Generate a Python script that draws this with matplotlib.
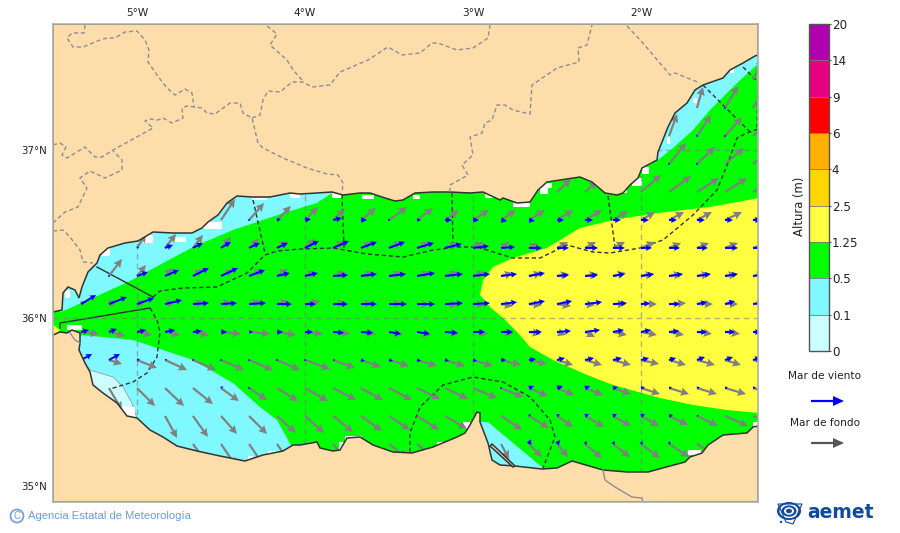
import numpy as np
import matplotlib
matplotlib.use("Agg")
import matplotlib.pyplot as plt
from matplotlib.patches import Polygon, Rectangle, Ellipse, Circle, FancyArrow
from matplotlib.colors import ListedColormap, BoundaryNorm
from matplotlib.colorbar import ColorbarBase

n = np.nan

# ---- map frame -----------------------------------------------------------
lon_ticks = [-5, -4, -3, -2]
lat_ticks = [35, 36, 37]
lon_labels = ["5°W", "4°W", "3°W", "2°W"]
lat_labels = ["35°N", "36°N", "37°N"]

# ---- colour scale --------------------------------------------------------
level_labels = ["0", "0.1", "0.5", "1.25", "2.5", "4", "6", "9", "14", "20"]
level_colors = ["#CCFFFF", "#80F8FF", "#00FF00", "#FFFF40", "#FFD700",
                "#FFB000", "#FF0000", "#E8007F", "#B000B0"]

# ---- digitised map outlines (x, y on the map sheet) --
coast_n = [(53,312),(62,310),(63,293),(68,287),(75,290),(79,298),(82,287),(88,272),(97,263),(100,255),
           (108,248),(125,243),(138,241),(153,232),(173,233),(192,233),(202,228),(208,222),(218,215),
           (227,203),(237,196),(252,197),(270,197),(290,193),(300,194),(317,193),(332,192),(343,195),
           (360,193),(370,193),(385,198),(395,201),(403,200),(415,193),(433,192),(450,192),(470,193),
           (483,192),(500,200),(503,198),(517,203),(530,202),(538,190),(547,182),(560,180),(580,177),
           (592,182),(605,193),(617,195),(623,193),(630,185),(638,178),(642,168),(657,160),(658,152),
           (668,127),(675,113),(687,103),(695,90),(703,85),(723,78),(730,70),(743,63),(755,56),(758,55),
           (758,24),(53,24)]
coast_s = [(53,335),(60,332),(67,333),(72,330),(80,333),(80,343),(79,350),(85,363),(90,372),(93,385),
           (103,393),(117,403),(127,416),(137,418),(150,430),(163,437),(177,446),(197,451),(220,456),
           (245,461),(263,455),(283,451),(293,445),(300,445),(317,442),(320,448),(333,451),(340,450),
           (347,438),(360,437),(373,445),(393,452),(412,453),(433,447),(457,437),(465,433),(470,425),
           (477,412),(480,413),(480,422),(488,443),(492,460),(500,465),(515,466),(542,469),(557,468),
           (572,461),(603,470),(627,472),(648,472),(670,466),(685,462),(690,457),(702,453),(708,445),
           (723,435),(747,433),(753,427),(758,426),(758,502),(53,502)]
spit = [(492,444),(515,466),(513,467),(490,446)]

cyan_nw = [(68,309),(128,282),(193,247),(233,230),(287,212),(317,203),(332,193),(332,180),(60,180),(60,312)]
cyan_sw = [(82,335),(133,340),(193,360),(233,383),(260,407),(277,420),(292,447),(292,470),(80,470),(75,340)]
pale_sw = [(82,360),(90,370),(113,377),(123,387),(132,403),(137,418),(100,430),(80,380)]
cyan_ne = [(658,160),(673,148),(693,130),(710,110),(737,83),(759,63),(759,40),(640,40),(640,170)]
cyan_bay = [(488,422),(513,443),(543,468),(543,472),(480,472),(480,422)]
yellow_e = [(759,198),(710,207),(657,213),(613,220),(580,228),(560,240),(547,248),(513,258),(493,267),
            (483,280),(480,295),(490,307),(503,318),(517,332),(530,347),(553,360),(587,375),(613,385),
            (660,398),(693,405),(727,410),(759,413)]
yellow_w = [(53,325),(60,330),(55,335),(53,335)]

white_x = [102,65,143,173,203,290,122,248,268,67,332,362,413,485,513,540,540,339,345,437,463,632,642,623,667,730,693,688,710,753,252]
white_y = [248,290,235,237,222,193,407,456,451,325,193,195,195,193,203,183,188,442,436,442,422,178,167,190,137,68,98,450,442,422,198]
white_w = [8,5,10,13,19,10,13,5,15,15,10,12,7,8,17,12,8,6,17,8,7,10,7,4,3,4,4,13,4,6,15]
white_h = [8,8,8,5,7,5,10,4,3,5,5,4,4,5,4,5,6,8,4,4,7,8,7,3,7,5,5,5,3,4,2]

borders = [
 [(85,25),(84,33),(72,33),(67,38),(73,47),(83,47),(100,40),(107,38),(115,38),(125,32),(137,31),(145,40),(149,50),(148,62),(157,75),(167,88),(175,95),(185,89),(192,93),(194,107)],
 [(53,145),(60,143),(66,147),(62,155),(67,158),(85,147),(95,157),(102,157),(113,150),(135,138),(153,128),(145,121),(150,119),(158,120),(163,118),(172,123),(183,118),(182,108),(187,106),(202,108),(207,113),(215,114),(230,103),(240,103),(243,113),(252,118),(258,143),(263,148),(283,158),(307,168),(327,174),(338,175),(343,183),(342,193)],
 [(252,118),(260,115),(263,100),(268,91),(280,92),(292,82),(303,82),(312,87),(330,85),(340,72),(368,60),(388,47),(402,55),(420,53),(432,43),(438,43),(457,50),(473,48),(488,38),(490,25)],
 [(267,26),(277,34),(270,45),(287,60),(293,70),(303,81)],
 [(53,223),(65,212),(78,207),(87,188),(80,178),(90,171),(105,178),(122,170),(122,160),(113,151)],
 [(53,231),(63,230),(70,237),(80,250),(83,262),(93,263)],
 [(450,192),(450,185),(468,175),(462,165),(473,155),(470,137),(482,133),(485,123),(492,120),(497,105),(505,105),(513,110),(530,114),(532,85),(557,68),(579,62),(578,48),(587,45),(592,25)],
 [(627,26),(642,42),(670,75),(675,73),(700,83)],
]
solid_land = [
 [(603,470),(605,480),(615,487),(632,497),(642,498),(643,502)],
 [(70,333),(75,340),(80,343)],
]
sea_solid = [
 [(97,267),(153,297)],
 [(60,328),(60,323),(150,308)],
]
sea_dash = [
 [(150,308),(157,320),(160,332),(157,357),(147,373),(133,382),(110,389)],
 [(153,297),(160,291),(183,288),(217,287),(247,273),(265,255),(277,251),(300,249),(333,248),(367,254),(403,257),(433,250),(457,247),(477,247),(513,258),(540,258),(567,245),(593,252),(610,253),(640,248),(663,240),(693,215),(717,190),(728,163),(737,138),(747,133),(758,129)],
 [(253,200),(265,253)],
 [(342,195),(344,248)],
 [(452,193),(453,247)],
 [(608,196),(615,247)],
 [(703,85),(750,132)],
 [(743,67),(758,82),(757,129)],
 [(410,452),(410,433),(420,407),(443,385),(473,377),(503,382),(530,397),(550,420),(555,437),(543,468)],
]

# ---- wave grid (v counted positive southward, as read on the sheet) -------
grid_lon = [-5.333,-5.167,-5.0,-4.833,-4.667,-4.5,-4.333,-4.167,-4.0,-3.833,-3.667,-3.5,-3.333,
            -3.167,-3.0,-2.833,-2.667,-2.5,-2.333,-2.167,-2.0,-1.833,-1.667,-1.5,-1.333]
grid_lat = [37.417,37.25,37.083,36.917,36.75,36.583,36.417,36.25,36.083,35.917,35.75,35.583,35.417,35.25]
row_first = [24,22,21,21,17,5,2,1,0,0,0,1,3,4]

swell_u = [[10],[6,13,12],[8,14,17,18],[17,18,19,20],
 [14,12,n,20,22,22,22,20],
 [14,15,14,13,12,15,18,16,14,16,15,16,16,17,15,14,15,15,17,18],
 [9,11,10,10,10,11,10,12,11,13,13,13,10,8,9,11,11,12,14,12,12,13,13],
 [13,9,8,10,13,14,11,11,13,13,13,13,14,12,12,13,12,13,13,13,13,13,12,12],
 [5,8,9,10,11,11,12,12,15,13,12,13,13,13,12,12,13,14,10,13,16,17,16,13,13],
 [18,16,15,15,16,20,21,19,18,17,15,14,14,14,15,12,12,9,10,14,16,15,15,15,15],
 [n,13,20,22,23,23,24,23,25,22,20,20,20,20,20,20,18,16,17,18,18,17,18,16,16],
 [13,18,19,20,18,18,21,23,23,22,23,23,23,24,22,19,17,18,18,19,20,20,21,20],
 [12,15,16,18,19,19,20,21,21,22,22,n,21,20,16,19,18,18,19,21,23,20],
 [16,15,15,14,n,15,n,18,17,n,n,8,13,11,17,17,19,20,20]]
swell_v = [[-22],[-21,-22,-20],[-22,-21,-19,-18],[-21,-17,-16,-14],
 [-13,-11,n,-17,-16,-14,-14,-12],
 [-21,-17,-14,-13,-11,-12,-13,-12,-10,-10,-10,-10,-10,-10,-9,-8,-8,-8,-8,-8],
 [-14,-14,-13,-11,-9,-7,-9,-7,-6,-6,-6,-5,-6,-6,-5,-6,-6,-6,-6,-5,-5,-5,-5],
 [-17,-11,-8,-7,-6,-6,-7,-4,-4,-4,-4,-4,-4,-4,-3,-3,-2,-2,-3,-2,-2,-2,-2,-2],
 [-3,-3,-3,-2,-2,-2,-3,-3,-3,-1,-1,-1,0,1,1,2,1,2,1,0,0,-1,0,0,0],
 [2,4,3,3,3,2,2,3,2,2,2,3,3,2,2,2,2,3,5,3,3,3,2,2,2],
 [n,4,8,10,10,10,10,10,9,8,7,6,6,6,6,5,4,5,5,5,4,5,5,5,5],
 [22,18,18,16,13,12,13,13,12,12,12,11,11,10,9,8,7,7,6,6,6,6,6,6],
 [22,21,18,18,17,17,16,15,14,14,13,n,14,12,11,11,10,10,9,10,10,8],
 [22,22,22,20,n,18,n,14,14,n,n,15,13,13,14,13,14,13,12]]
wind_u = [[n],[n,0.8,n],[n,1,1,n],[1,1,n,n],
 [n,n,n,n,n,n,n,n],
 [n,1,4,6,9,6,1,4,7,6,6,6,7,8,8,8,8,8,8,8],
 [2,8,10,10,11,11,14,16,16,16,17,17,16,14,13,12,13,12,11,11,11,13,11],
 [1,11,14,16,17,16,13,13,15,16,17,18,18,17,16,16,12,13,12,13,14,14,13,13],
 [15,18,17,17,16,16,17,15,11,15,16,18,18,18,17,16,16,15,17,14,9,11,10,10,10],
 [8,8,9,10,9,6,4,6,8,11,12,12,13,13,12,12,13,14,15,11,10,10,10,10,8],
 [11,11,3,2,1,1,1,1,1,2,4,4,4,4,4,5,7,8,9,9,8,7,8,8,8],
 [n,n,n,n,2,1,n,n,n,n,n,n,n,n,2,5,6,5,5,4,3,3,3,3],
 [n,n,n,n,n,n,n,n,n,n,n,n,n,2,3,4,4,4,4,2,n,n],
 [n,n,n,n,n,n,n,n,n,n,n,n,2,3,2,2,2,1,n]]
wind_v = [[n],[n,0,n],[n,0,0,n],[0,0,n,n],
 [n,n,n,n,n,n,n,n],
 [n,0,-1,-1,-2,0,0,0,0,0,1,1,0,0,0,0,0,0,0,0],
 [-1,-3,-5,-6,-5,-5,-7,-7,-6,-6,-5,-4,-2,-1,0,0,0,0,0,0,0,0,0],
 [0,-4,-6,-8,-8,-6,-3,-3,-1,-2,-2,-3,-2,-2,-2,-3,-1,-1,-2,-2,-2,-2,-2,-2],
 [-9,-7,-6,-4,-1,-1,-1,0,0,0,0,0,0,-1,-1,-2,-3,-3,-2,-1,-1,0,-2,-3,-2],
 [-2,-3,-2,-2,-1,0,0,0,0,1,1,2,2,1,0,0,0,-1,-2,-2,-2,-1,0,0,0],
 [-6,-6,-1,-1,0,0,0,0,0,0,1,1,1,1,1,0,-1,-2,-2,-2,-2,-2,-3,-3,-3],
 [n,n,n,n,-2,-1,n,n,n,n,n,n,n,n,0,-2,-2,-2,-1,-1,-1,-1,-1,-1],
 [n,n,n,n,n,n,n,n,n,n,n,n,n,-2,-2,-2,-2,-2,-1,-1,n,n],
 [n,n,n,n,n,n,n,n,n,n,n,n,-5,-4,-3,-3,-3,-3,n]]


def lonlat(points):
    """sheet reading -> degrees"""
    p = np.asarray(points, dtype=float)
    return np.column_stack([-5 + (p[:, 0] - 137) / 168, 36 + (318 - p[:, 1]) / 168])


W, H = 900, 533
fig = plt.figure(figsize=(9.0, 5.33), dpi=100, facecolor="white")
ax = fig.add_axes([53 / W, 1 - 502 / H, 705 / W, 478 / H])
ax.set_xlim(-5 + (53 - 137) / 168, -5 + (758 - 137) / 168)
ax.set_ylim(36 + (318 - 502) / 168, 36 + (318 - 24) / 168)
ax.set_facecolor("#00FF00")

for pts, col in [(yellow_e, level_colors[3]), (yellow_w, level_colors[3]), (cyan_nw, level_colors[1]),
                 (cyan_sw, level_colors[1]), (cyan_ne, level_colors[1]), (cyan_bay, level_colors[1]),
                 (pale_sw, level_colors[0])]:
    ax.add_patch(Polygon(lonlat(pts), closed=True, fc=col, ec="none", zorder=1))
ax.add_patch(Polygon(lonlat(pale_sw), closed=True, fc="none", ec="#999999", lw=0.6, zorder=1.1))

for x0, y0, w, h in zip(white_x, white_y, white_w, white_h):
    xy = lonlat([(x0, y0 + h)])[0]
    ax.add_patch(Rectangle(xy, w / 168, h / 168, fc="white", ec="none", zorder=1.5))

for seg in sea_solid:
    p = lonlat(seg)
    ax.plot(p[:, 0], p[:, 1], color="#333333", lw=1.0, zorder=2)
for seg in sea_dash:
    p = lonlat(seg)
    ax.plot(p[:, 0], p[:, 1], color="#333333", lw=1.0, ls=(0, (3, 2)), zorder=2)

X, Y, SU, SV, WU, WV = [], [], [], [], [], []
for lat, first, su, sv, wu, wv in zip(grid_lat, row_first, swell_u, swell_v, wind_u, wind_v):
    m = len(su)
    X += grid_lon[first:first + m]
    Y += [lat] * m
    SU += su
    SV += sv
    WU += wu
    WV += wv
SV = -np.array(SV, dtype=float)
WV = -np.array(WV, dtype=float)
common = dict(angles="xy", scale_units="xy", scale=168, units="dots", pivot="tail")
ax.quiver(X, Y, SU, SV, color="#808080", zorder=3, width=2.2,
          headwidth=3.8, headlength=3.8, headaxislength=3.4, **common)
ax.quiver(X, Y, WU, WV, color="#0000FF", zorder=4, width=2.0,
          headwidth=3.0, headlength=3.0, headaxislength=2.7, **common)

for c in (coast_n, coast_s, spit):
    ax.add_patch(Polygon(lonlat(c), closed=True, fc="#FDDEAB", ec="#333333", lw=1.1, zorder=5))

for seg in borders:
    p = lonlat(seg)
    ax.plot(p[:, 0], p[:, 1], color="#8c8c96", lw=1.0, ls=(0, (3, 2)), zorder=6)
for seg in solid_land:
    p = lonlat(seg)
    ax.plot(p[:, 0], p[:, 1], color="#8c8c96", lw=1.0, zorder=6)

ax.set_xticks(lon_ticks)
ax.set_xticklabels(lon_labels, fontsize=7.6, color="#222222")
ax.set_yticks(lat_ticks)
ax.set_yticklabels(lat_labels, fontsize=7.4, color="#222222")
ax.xaxis.tick_top()
ax.tick_params(length=0, pad=4)
ax.set_axisbelow(False)
ax.grid(True, color="#777777", alpha=0.55, lw=1.0, ls=(0, (4, 3)), zorder=7)
for s in ax.spines.values():
    s.set_color("#b0b0a8")
    s.set_linewidth(1.2)
    s.set_zorder(8)

# colour bar
cax = fig.add_axes([809 / W, 1 - 351 / H, 20 / W, 327 / H])
bounds = np.arange(len(level_labels))
cb = ColorbarBase(cax, cmap=ListedColormap(level_colors), norm=BoundaryNorm(bounds, len(level_colors)),
                  ticks=bounds, spacing="uniform", drawedges=True, orientation="vertical")
cb.ax.set_yticklabels(level_labels, fontsize=8.6, color="#222222")
cb.ax.tick_params(length=1.5, width=0.8, pad=0.5, color="#444444")
cb.outline.set_edgecolor("#555555")
cb.outline.set_linewidth(1.0)
cb.dividers.set_color("#777777")
cb.dividers.set_linewidth(0.6)

# overlay for legend and footer
ov = fig.add_axes([0, 0, 1, 1], facecolor="none")
ov.set_xlim(0, W)
ov.set_ylim(H, 0)
ov.axis("off")
ov.text(799, 206, "Altura (m)", ha="center", va="center", rotation=90, fontsize=8.4, color="#222222")
ov.text(825, 376, "Mar de viento", ha="center", va="center", fontsize=7.6, color="#222222")
ov.text(825, 423, "Mar de fondo", ha="center", va="center", fontsize=7.6, color="#222222")
ov.add_patch(FancyArrow(811, 401, 33, 0, width=2.2, head_width=10, head_length=11,
                        length_includes_head=True, fc="#0000FF", ec="none"))
ov.add_patch(FancyArrow(811, 443, 33, 0, width=2.2, head_width=10, head_length=11,
                        length_includes_head=True, fc="#555555", ec="none"))
ov.add_patch(Circle((17, 516), 6.5, fc="none", ec="#6B9BE0", lw=1.2))
ov.text(17, 516, "C", ha="center", va="center", fontsize=7, color="#6B9BE0", family="Liberation Sans")
ov.text(28, 516, "Agencia Estatal de Meteorología", ha="left", va="center", fontsize=8.15,
        color="#6B9BE0", family="Liberation Sans")

blue = "#104A9C"
for r, c in [(12, blue), (9.5, "white"), (7.5, blue), (5, "white"), (3, blue)]:
    ov.add_patch(Ellipse((789, 511), r * 2, r * 1.5, fc=c, ec="none"))
ov.add_patch(Polygon([(778, 504), (802, 504), (793, 524), (786, 522)], closed=True, fc="none", ec=blue, lw=0.8))
ov.add_patch(Circle((781, 522), 1.2, fc=blue, ec="none"))
ov.text(840, 512, "aemet", ha="center", va="center", fontsize=13.5, fontweight="bold", color=blue)

fig.savefig("out.png", dpi=100)
